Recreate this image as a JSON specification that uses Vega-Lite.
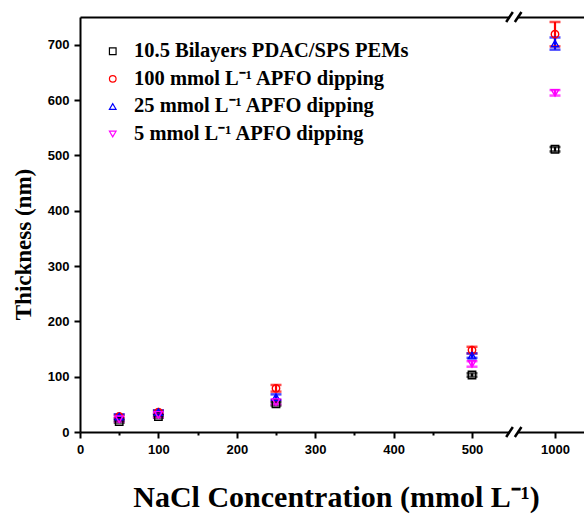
{
  "$schema": "https://vega.github.io/schema/vega-lite/v6.json",
  "width": 504,
  "height": 415,
  "autosize": {"type": "none"},
  "padding": {"left": 80, "top": 17, "right": 0, "bottom": 82},
  "background": "white",
  "config": {
    "view": {"stroke": null},
    "axis": {
      "grid": false,
      "domainColor": "black",
      "domainWidth": 2,
      "tickColor": "black",
      "tickWidth": 2,
      "labelFont": "Liberation Sans",
      "labelFontWeight": "bold",
      "labelFontSize": 13,
      "labelColor": "black",
      "titleFont": "Liberation Serif",
      "titleFontWeight": "bold",
      "titleColor": "black"
    },
    "legend": {
      "orient": "none",
      "legendX": 22.5,
      "legendY": 24,
      "title": null,
      "padding": 0,
      "labelFont": "Liberation Serif",
      "labelFontWeight": "bold",
      "labelFontSize": 20.5,
      "labelColor": "black",
      "labelLimit": 500,
      "labelOffset": 11,
      "symbolSize": 44,
      "symbolStrokeWidth": 1.2,
      "rowPadding": 6.6
    }
  },
  "data": {
    "values": [
      {"nacl": 50, "series": "10.5 Bilayers PDAC/SPS PEMs", "thickness": 19, "err": 2},
      {"nacl": 100, "series": "10.5 Bilayers PDAC/SPS PEMs", "thickness": 28, "err": 2},
      {"nacl": 250, "series": "10.5 Bilayers PDAC/SPS PEMs", "thickness": 51, "err": 3},
      {"nacl": 500, "series": "10.5 Bilayers PDAC/SPS PEMs", "thickness": 103, "err": 3},
      {"nacl": 1000, "series": "10.5 Bilayers PDAC/SPS PEMs", "thickness": 511, "err": 4},
      {"nacl": 50, "series": "100 mmol L⁻¹ APFO dipping", "thickness": 28, "err": 3},
      {"nacl": 100, "series": "100 mmol L⁻¹ APFO dipping", "thickness": 36, "err": 3},
      {"nacl": 250, "series": "100 mmol L⁻¹ APFO dipping", "thickness": 79, "err": 6},
      {"nacl": 500, "series": "100 mmol L⁻¹ APFO dipping", "thickness": 148, "err": 6},
      {"nacl": 1000, "series": "100 mmol L⁻¹ APFO dipping", "thickness": 719, "err": 22},
      {"nacl": 50, "series": "25 mmol L⁻¹ APFO dipping", "thickness": 28, "err": 4},
      {"nacl": 100, "series": "25 mmol L⁻¹ APFO dipping", "thickness": 36, "err": 3},
      {"nacl": 250, "series": "25 mmol L⁻¹ APFO dipping", "thickness": 63, "err": 5},
      {"nacl": 500, "series": "25 mmol L⁻¹ APFO dipping", "thickness": 138, "err": 4},
      {"nacl": 1000, "series": "25 mmol L⁻¹ APFO dipping", "thickness": 702, "err": 11},
      {"nacl": 50, "series": "5 mmol L⁻¹ APFO dipping", "thickness": 23, "err": 4},
      {"nacl": 100, "series": "5 mmol L⁻¹ APFO dipping", "thickness": 31, "err": 4},
      {"nacl": 250, "series": "5 mmol L⁻¹ APFO dipping", "thickness": 54, "err": 4},
      {"nacl": 500, "series": "5 mmol L⁻¹ APFO dipping", "thickness": 123, "err": 5},
      {"nacl": 1000, "series": "5 mmol L⁻¹ APFO dipping", "thickness": 613, "err": 5}
    ]
  },
  "transform": [
    {"calculate": "datum.thickness - datum.err", "as": "lo"},
    {"calculate": "datum.thickness + datum.err", "as": "hi"}
  ],
  "resolve": {"scale": {"x": "shared", "y": "shared"}, "axis": {"x": "independent"}},
  "layer": [
    {
      "mark": {"type": "rule", "strokeWidth": 2.2},
      "encoding": {
        "x": {
          "field": "nacl",
          "type": "quantitative",
          "scale": {"type": "linear", "domain": [0, 500, 1000, 1175], "range": [0, 392, 475, 504]},
          "axis": {
            "orient": "bottom",
            "title": "NaCl Concentration (mmol L⁻¹)",
            "titleFontSize": 30,
            "titleX": 256,
            "titleY": 74,
            "titleAlign": "center",
            "titleBaseline": "alphabetic",
            "values": [0, 50, 100, 150, 200, 250, 300, 350, 400, 450, 500, 1000],
            "format": "d",
            "labelExpr": "datum.value % 100 == 0 ? datum.label : ''",
            "labelFlush": false,
            "labelOverlap": false,
            "labelPadding": 5,
            "tickSize": {"condition": {"test": "datum.value % 100 != 0", "value": 3}, "value": 6}
          }
        },
        "y": {
          "field": "lo",
          "type": "quantitative",
          "scale": {"domain": [0, 750], "nice": false},
          "axis": {
            "title": "Thickness (nm)",
            "titleFontSize": 23,
            "titleAngle": 270,
            "titleX": -57,
            "titleY": 227,
            "titleAlign": "center",
            "titleBaseline": "middle",
            "values": [0, 50, 100, 150, 200, 250, 300, 350, 400, 450, 500, 550, 600, 650, 700],
            "labelExpr": "datum.value % 100 == 0 ? datum.label : ''",
            "labelFlush": false,
            "labelOverlap": false,
            "labelPadding": 5,
            "tickSize": {"condition": {"test": "datum.value % 100 != 0", "value": 3}, "value": 6}
          }
        },
        "y2": {"field": "hi"},
        "color": {
          "condition": [
            {"test": "datum.series == '100 mmol L⁻¹ APFO dipping'", "value": "#ff0000"},
            {"test": "datum.series == '25 mmol L⁻¹ APFO dipping'", "value": "#0000ff"},
            {"test": "datum.series == '5 mmol L⁻¹ APFO dipping'", "value": "#ff00ff"}
          ],
          "value": "#000000"
        }
      }
    },
    {
      "mark": {"type": "tick", "orient": "horizontal", "size": 11, "thickness": 2.5},
      "encoding": {
        "x": {"field": "nacl", "type": "quantitative", "axis": null},
        "y": {"field": "lo", "type": "quantitative"},
        "color": {
          "condition": [
            {"test": "datum.series == '100 mmol L⁻¹ APFO dipping'", "value": "#ff0000"},
            {"test": "datum.series == '25 mmol L⁻¹ APFO dipping'", "value": "#0000ff"},
            {"test": "datum.series == '5 mmol L⁻¹ APFO dipping'", "value": "#ff00ff"}
          ],
          "value": "#000000"
        }
      }
    },
    {
      "mark": {"type": "tick", "orient": "horizontal", "size": 11, "thickness": 2.5},
      "encoding": {
        "x": {"field": "nacl", "type": "quantitative", "axis": null},
        "y": {"field": "hi", "type": "quantitative"},
        "color": {
          "condition": [
            {"test": "datum.series == '100 mmol L⁻¹ APFO dipping'", "value": "#ff0000"},
            {"test": "datum.series == '25 mmol L⁻¹ APFO dipping'", "value": "#0000ff"},
            {"test": "datum.series == '5 mmol L⁻¹ APFO dipping'", "value": "#ff00ff"}
          ],
          "value": "#000000"
        }
      }
    },
    {
      "mark": {"type": "point", "filled": false, "size": 55, "strokeWidth": 1.4, "opacity": 1},
      "encoding": {
        "x": {
          "field": "nacl",
          "type": "quantitative",
          "axis": {
            "orient": "top",
            "title": null,
            "labels": false,
            "values": [0, 50, 100, 150, 200, 250, 300, 350, 400, 450, 500, 1000],
            "tickSize": 0
          }
        },
        "y": {"field": "thickness", "type": "quantitative"},
        "color": {
          "field": "series",
          "type": "nominal",
          "scale": {
            "domain": ["10.5 Bilayers PDAC/SPS PEMs", "100 mmol L⁻¹ APFO dipping", "25 mmol L⁻¹ APFO dipping", "5 mmol L⁻¹ APFO dipping"],
            "range": ["#000000", "#ff0000", "#0000ff", "#ff00ff"]
          }
        },
        "shape": {
          "field": "series",
          "type": "nominal",
          "scale": {
            "domain": ["10.5 Bilayers PDAC/SPS PEMs", "100 mmol L⁻¹ APFO dipping", "25 mmol L⁻¹ APFO dipping", "5 mmol L⁻¹ APFO dipping"],
            "range": ["square", "circle", "triangle-up", "triangle-down"]
          }
        }
      }
    },
    {
      "data": {"values": [{}]},
      "mark": {"type": "rect", "color": "white"},
      "encoding": {
        "x": {"datum": 727, "type": "quantitative", "axis": null},
        "x2": {"datum": 778},
        "y": {"datum": -8, "type": "quantitative"},
        "y2": {"datum": 8}
      }
    },
    {
      "data": {"values": [{}]},
      "mark": {"type": "rect", "color": "white"},
      "encoding": {
        "x": {"datum": 727, "type": "quantitative", "axis": null},
        "x2": {"datum": 778},
        "y": {"datum": 742, "type": "quantitative"},
        "y2": {"datum": 758}
      }
    },
    {
      "data": {"values": [{}]},
      "mark": {"type": "rule", "color": "black", "strokeWidth": 2.5},
      "encoding": {
        "x": {"datum": 706, "type": "quantitative", "axis": null},
        "x2": {"datum": 746},
        "y": {"datum": -9, "type": "quantitative"},
        "y2": {"datum": 9}
      }
    },
    {
      "data": {"values": [{}]},
      "mark": {"type": "rule", "color": "black", "strokeWidth": 2.5},
      "encoding": {
        "x": {"datum": 758, "type": "quantitative", "axis": null},
        "x2": {"datum": 798},
        "y": {"datum": -9, "type": "quantitative"},
        "y2": {"datum": 9}
      }
    },
    {
      "data": {"values": [{}]},
      "mark": {"type": "rule", "color": "black", "strokeWidth": 2.5},
      "encoding": {
        "x": {"datum": 706, "type": "quantitative", "axis": null},
        "x2": {"datum": 746},
        "y": {"datum": 741, "type": "quantitative"},
        "y2": {"datum": 759}
      }
    },
    {
      "data": {"values": [{}]},
      "mark": {"type": "rule", "color": "black", "strokeWidth": 2.5},
      "encoding": {
        "x": {"datum": 758, "type": "quantitative", "axis": null},
        "x2": {"datum": 798},
        "y": {"datum": 741, "type": "quantitative"},
        "y2": {"datum": 759}
      }
    }
  ]
}
